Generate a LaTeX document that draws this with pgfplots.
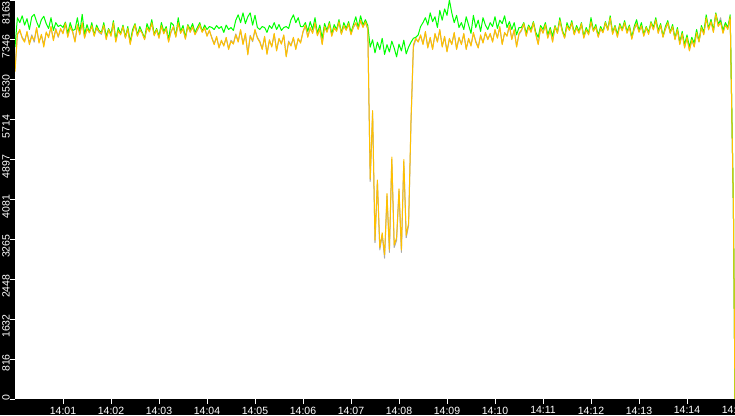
\documentclass[border=0pt]{standalone}
\usepackage{fontspec}
\setmainfont{Liberation Sans}
\usepackage{pgfplots}
\usepackage{pgfplotstable}
\pgfplotsset{compat=1.18}

\definecolor{lnyellow}{RGB}{255,192,0}
\definecolor{lngreen}{RGB}{0,255,0}
\definecolor{lngray}{RGB}{168,168,168}

% t in seconds after 14:00, three series
\pgfplotstableread{
t gray green yellow
0 6750 7200 6700
3 7480 7800 7450
6 7520 7700 7560
9 7400 7840 7380
12 7330 7650 7300
15 7500 7780 7520
18 7280 7560 7250
21 7450 7820 7420
24 7300 7870 7340
27 7580 7720 7600
30 7310 7600 7280
33 7440 7760 7460
36 7250 7830 7200
39 7490 7680 7510
42 7420 7580 7390
45 7600 7800 7620
48 7360 7540 7330
51 7580 7700 7560
54 7400 7620 7420
57 7560 7650 7580
60 7500 7600 7470
63 7660 7710 7690
66 7430 7480 7400
69 7600 7700 7620
72 7530 7540 7510
75 7320 7560 7300
78 7640 7800 7660
81 7470 7500 7450
84 7680 7870 7700
87 7400 7460 7380
90 7560 7660 7580
93 7510 7500 7490
96 7620 7700 7640
99 7450 7440 7420
102 7580 7650 7600
105 7500 7540 7520
108 7460 7500 7480
111 7630 7700 7650
114 7380 7420 7350
117 7540 7580 7560
120 7440 7460 7420
123 7680 7740 7700
126 7330 7350 7300
129 7520 7600 7540
132 7480 7470 7450
135 7600 7650 7620
138 7410 7400 7380
141 7560 7620 7580
144 7280 7300 7250
147 7520 7560 7500
150 7640 7680 7660
153 7440 7450 7420
156 7540 7620 7560
159 7500 7500 7480
162 7370 7380 7350
165 7580 7680 7600
168 7530 7540 7510
171 7680 7760 7700
174 7450 7460 7430
177 7540 7580 7560
180 7400 7420 7380
183 7620 7700 7640
186 7490 7520 7470
189 7560 7620 7580
192 7320 7350 7300
195 7500 7700 7520
198 7600 7650 7620
201 7430 7420 7400
204 7680 7800 7700
207 7500 7520 7480
210 7560 7640 7580
213 7380 7400 7360
216 7620 7660 7640
219 7520 7560 7500
222 7600 7680 7620
225 7470 7500 7450
228 7540 7600 7560
231 7640 7700 7660
234 7520 7520 7500
237 7580 7650 7600
240 7440 7560 7420
243 7530 7620 7550
246 7400 7600 7380
249 7270 7560 7250
252 7400 7640 7420
255 7200 7580 7180
258 7320 7620 7340
261 7240 7500 7220
264 7380 7650 7400
267 7170 7560 7150
270 7340 7600 7320
273 7280 7540 7260
276 7470 7750 7450
279 7320 7860 7300
282 7540 7700 7560
285 7270 7900 7250
288 7460 7680 7480
291 7060 7820 7040
294 7440 7900 7420
297 7310 7650 7330
300 7540 7850 7560
303 7400 7600 7380
306 7320 7560 7300
309 7170 7620 7150
312 7400 7600 7420
315 7070 7500 7050
318 7330 7640 7350
321 7220 7580 7200
324 7460 7700 7480
327 7140 7560 7120
330 7360 7660 7380
333 7280 7540 7260
336 7430 7600 7450
339 7020 7620 7000
342 7320 7580 7300
345 7240 7760 7220
348 7380 7860 7400
351 7170 7700 7150
354 7360 7800 7380
357 7300 7620 7280
360 7500 7620 7520
363 7630 7700 7650
366 7420 7520 7400
369 7580 7720 7600
372 7500 7560 7480
375 7680 7800 7700
378 7450 7480 7430
381 7560 7650 7580
384 7270 7380 7250
387 7600 7680 7620
390 7520 7540 7500
393 7660 7720 7680
396 7440 7470 7420
399 7580 7660 7600
402 7540 7560 7520
405 7700 7760 7720
408 7480 7480 7460
411 7620 7700 7640
414 7560 7580 7540
417 7660 7720 7680
420 7470 7500 7450
423 7600 7660 7620
426 7680 7820 7700
429 7580 7600 7560
432 7730 7840 7750
435 7620 7650 7600
438 7700 7760 7720
441 7560 7640 7580
444 4450 7200 4500
447 5850 7350 5900
450 3200 7080 3250
453 4450 7300 4480
456 3050 7150 3100
459 3350 7380 3400
462 2880 7050 2950
465 4150 7250 4200
468 3000 7100 3050
471 4900 7320 4950
474 3100 7180 3150
477 3250 7000 3300
480 4250 7260 4300
483 3000 7120 3050
486 4850 7340 4900
489 3300 7060 3350
492 3550 7200 3600
495 5650 7300 5700
498 7200 7380 7250
501 7360 7400 7380
504 7320 7450 7300
507 7430 7620 7450
510 7270 7700 7250
513 7500 7800 7520
516 7200 7650 7180
519 7380 7900 7400
522 7170 7720 7150
525 7460 7820 7480
528 7320 7600 7300
531 7540 7950 7560
534 7220 7750 7200
537 7400 7980 7420
540 7120 7850 7100
543 7360 8163 7380
546 7270 7900 7250
549 7480 7700 7500
552 7170 7850 7150
555 7380 7600 7400
558 7270 7700 7250
561 7460 7560 7480
564 7170 7820 7150
567 7360 7650 7380
570 7240 7480 7220
573 7480 7850 7500
576 7320 7600 7300
579 7200 7750 7180
582 7430 7520 7450
585 7300 7800 7280
588 7480 7650 7500
591 7370 7560 7350
594 7460 7700 7480
597 7320 7620 7300
600 7540 7820 7560
603 7400 7580 7380
606 7600 7750 7620
609 7270 7680 7250
612 7480 7840 7500
615 7440 7600 7420
618 7630 7720 7650
621 7370 7560 7350
624 7540 7700 7560
627 7220 7450 7200
630 7460 7600 7480
633 7530 7600 7550
636 7660 7700 7680
639 7440 7480 7420
642 7600 7650 7620
645 7520 7560 7500
648 7680 7720 7700
651 7470 7500 7450
654 7270 7400 7250
657 7580 7640 7600
660 7500 7560 7480
663 7640 7700 7660
666 7400 7450 7380
669 7540 7600 7560
672 7320 7420 7300
675 7600 7640 7620
678 7500 7500 7480
681 7730 7800 7750
684 7540 7560 7520
687 7400 7400 7380
690 7620 7700 7640
693 7560 7560 7540
696 7680 7740 7700
699 7470 7480 7450
702 7580 7640 7600
705 7500 7520 7480
708 7660 7700 7680
711 7400 7420 7380
714 7540 7600 7560
717 7470 7480 7450
720 7700 7800 7720
723 7540 7540 7520
726 7600 7660 7620
729 7420 7440 7400
732 7560 7620 7580
735 7510 7520 7490
738 7680 7720 7700
741 7560 7560 7540
744 7780 7840 7800
747 7480 7500 7460
750 7600 7640 7620
753 7420 7460 7400
756 7630 7680 7650
759 7550 7560 7530
762 7680 7740 7700
765 7500 7520 7480
768 7600 7650 7620
771 7380 7400 7360
774 7560 7620 7580
777 7660 7760 7680
780 7520 7540 7500
783 7620 7700 7640
786 7440 7460 7420
789 7580 7620 7600
792 7480 7500 7460
795 7680 7720 7700
798 7570 7600 7550
801 7740 7800 7760
804 7500 7540 7480
807 7630 7680 7650
810 7420 7420 7400
813 7560 7620 7580
816 7680 7740 7700
819 7500 7500 7480
822 7600 7660 7620
825 7370 7380 7350
828 7540 7600 7560
831 7270 7300 7250
834 7460 7520 7480
837 7200 7250 7180
840 7380 7450 7400
843 7140 7200 7120
846 7330 7400 7350
849 7220 7280 7200
852 7480 7560 7500
855 7320 7320 7300
858 7580 7640 7600
861 7470 7500 7450
864 7780 7860 7800
867 7570 7580 7550
870 7760 7760 7720
873 7520 7540 7500
876 7860 7900 7880
879 7640 7680 7620
882 7800 7740 7700
885 7500 7540 7480
888 7680 7700 7650
891 7580 7600 7560
894 7800 7860 7820
898 3930 3930 3930
900 0 0 0
}\speedtable

\begin{document}
\begin{tikzpicture}
\fill[black] (-15pt,-16pt) rectangle (720pt,0pt);
\fill[black] (-15pt,-16pt) rectangle (0pt,399pt);
\begin{axis}[
    at={(0pt,0pt)}, anchor=south west,
    scale only axis,
    width=720pt, height=399pt,
    xmin=0, xmax=900,
    ymin=0, ymax=8163,
    axis line style={draw=none},
    xtick={60,120,180,240,300,360,420,480,540,600,660,720,780,840,900},
    xticklabels={14:01,14:02,14:03,14:04,14:05,14:06,14:07,14:08,14:09,14:10,14:11,14:12,14:13,14:14,14:15},
    ytick={0,816.3,1632.6,2448.9,3265.2,4081.5,4897.8,5714.1,6530.4,7346.7},
    yticklabels={0,816,1632,2448,3265,4081,4897,5714,6530,7346},
    extra y ticks={8163},
    extra y tick labels={8163},
    extra y tick style={yticklabel style={xshift=-6pt}},
    xtick pos=bottom, ytick pos=left,
    tick align=outside,
    major tick length=5pt,
    every tick/.style={white, line width=1pt},
    /pgf/number format/assume math mode=true,
    tick label style={white, font=\fontsize{10.5}{12}\selectfont},
    xticklabel style={anchor=north, inner sep=0pt, yshift=-2.5pt},
    yticklabel style={rotate=90, anchor=south east, inner sep=0pt, xshift=5pt},
    every axis plot/.append style={line width=1pt, line join=round},
]
\addplot[lngray, no markers] table[x=t, y=gray] {\speedtable};
\addplot[lngreen, no markers] table[x=t, y=green] {\speedtable};
\addplot[lnyellow, no markers] table[x=t, y=yellow] {\speedtable};
\end{axis}
\pgfresetboundingbox
\path (-15pt,-16pt) rectangle (720pt,399pt);
\end{tikzpicture}
\end{document}
